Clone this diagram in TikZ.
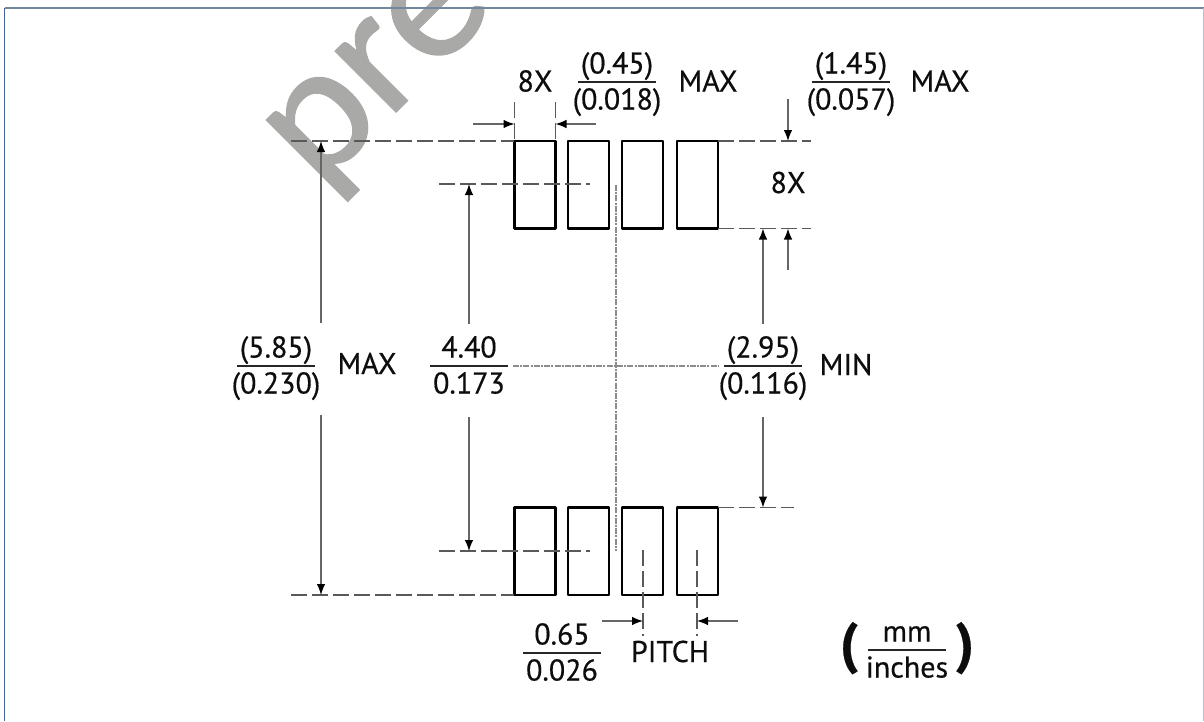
\documentclass[tikz,border=0pt]{standalone}
\usepackage{fontspec}
\setmainfont[FakeBold=0.45]{PT Sans}
\newfontfamily\markfont[FakeStretch=1.04,FakeBold=0.8]{Carlito}
\usetikzlibrary{arrows.meta}
\definecolor{frametop}{HTML}{73879F}
\definecolor{frameleft}{HTML}{3F6596}
\definecolor{frameright}{HTML}{B7C1CD}
\definecolor{markcol}{HTML}{A9A9A7}
\tikzset{
  pad/.style={line width=2.8pt, line join=round},
  dimline/.style={line width=1.2pt, black!60, -{Latex[length=11pt,width=8.5pt,black]}},
  ext/.style={line width=1.2pt, black!65, dash pattern=on 16pt off 5pt},
  centre/.style={line width=1.2pt, black!45, dash pattern=on 6pt off 1.2pt on 2pt off 1.2pt},
  lab/.style={font=\fontsize{30}{30}\selectfont, anchor=base, inner sep=0pt, text=black!95},
  fracrule/.style={line width=1.5pt, black!85}
}
% value over value, #2,#3 = middle of the rule
\newcommand{\dimfrac}[5]{
  \node[lab] (#1up) at (#2,#3-8.5) {#4};
  \node[lab] (#1lo) at (#2,#3+27.5) {#5};
  \draw[fracrule] (#2-39,#3) -- (#2+39,#3);
}

\begin{document}
\begin{tikzpicture}[x=1pt,y=-1pt]
  \useasboundingbox (0,0) rectangle (1204,721);
  \clip (0,0) rectangle (1204,721);
  \node[font=\markfont\fontsize{180}{180}\selectfont, text=markcol, rotate=45, anchor=base west, inner sep=0pt] (mark) at (318,190) {pre};
  \draw[frametop, line width=1.5pt] (4.5,8) -- (1203.5,8);
  \draw[frameleft, line width=1.5pt] (4.5,7.5) -- (4.5,721);
  \draw[frameright, line width=1.5pt] (1203.5,8) -- (1203.5,721);

  \foreach \x in {514.5,568,622,677}{
    \draw[pad] (\x,141) rectangle ++(41,87.5);
    \draw[pad] (\x,507.5) rectangle ++(41,87.5);
  }

  \draw[ext] (291,141) -- (514,141);
  \draw[ext] (718,141) -- (811,141);
  \draw[ext] (439,184) -- (590,184);
  \draw[ext] (718,228.5) -- (811,228.5);
  \draw[ext] (718,507.5) -- (794,507.5);
  \draw[ext] (439,551) -- (590,551);
  \draw[ext] (291,595) -- (514,595);
  \draw[ext] (514.5,102) -- (514.5,141);
  \draw[ext] (555.5,102) -- (555.5,141);
  \draw[ext] (643,550) -- (643,636);
  \draw[ext] (697,550) -- (697,636);
  \draw[centre] (616,185) -- (616,551);
  \draw[centre] (513,366) -- (718,366);

  \draw[dimline] (473,124) -- (514.5,124);
  \draw[dimline] (596,124) -- (555.5,124);
  \draw[dimline] (788,99) -- (788,141);
  \draw[dimline] (788,270) -- (788,228.5);
  \draw[dimline] (763,324) -- (763,228.5);
  \draw[dimline] (763,417) -- (763,507.5);
  \draw[dimline] (321,323) -- (321,141);
  \draw[dimline] (321,415) -- (321,595);
  \draw[dimline] (469,324) -- (469,184);
  \draw[dimline] (469,417) -- (469,551);
  \draw[dimline] (602,621) -- (643,621);
  \draw[dimline] (738,621) -- (697,621);

  \dimfrac{width}{617}{82}{(0.45)}{(0.018)}
  \dimfrac{height}{851}{82}{(1.45)}{(0.057)}
  \dimfrac{span}{276}{366}{(5.85)}{(0.230)}
  \dimfrac{centres}{469}{366}{4.40}{0.173}
  \dimfrac{gap}{763}{366}{(2.95)}{(0.116)}
  \dimfrac{pitch}{562}{653}{0.65}{0.026}
  \dimfrac{units}{907}{650}{mm}{inches}

  \node[lab] (countw) at (535,91.5) {8X};
  \node[lab] (maxw) at (708,91.5) {MAX};
  \node[lab] (maxh) at (940,91.5) {MAX};
  \node[lab] (counth) at (788,193) {8X};
  \node[lab] (maxs) at (367,374) {MAX};
  \node[lab] (ming) at (846,375) {MIN};
  \node[lab] (pitchtxt) at (670,662) {PITCH};
  \node[lab, font=\bfseries\fontsize{56}{56}\selectfont] (parl) at (849,662) {(};
  \node[lab, font=\bfseries\fontsize{56}{56}\selectfont] (parr) at (965,662) {)};
\end{tikzpicture}
\end{document}
